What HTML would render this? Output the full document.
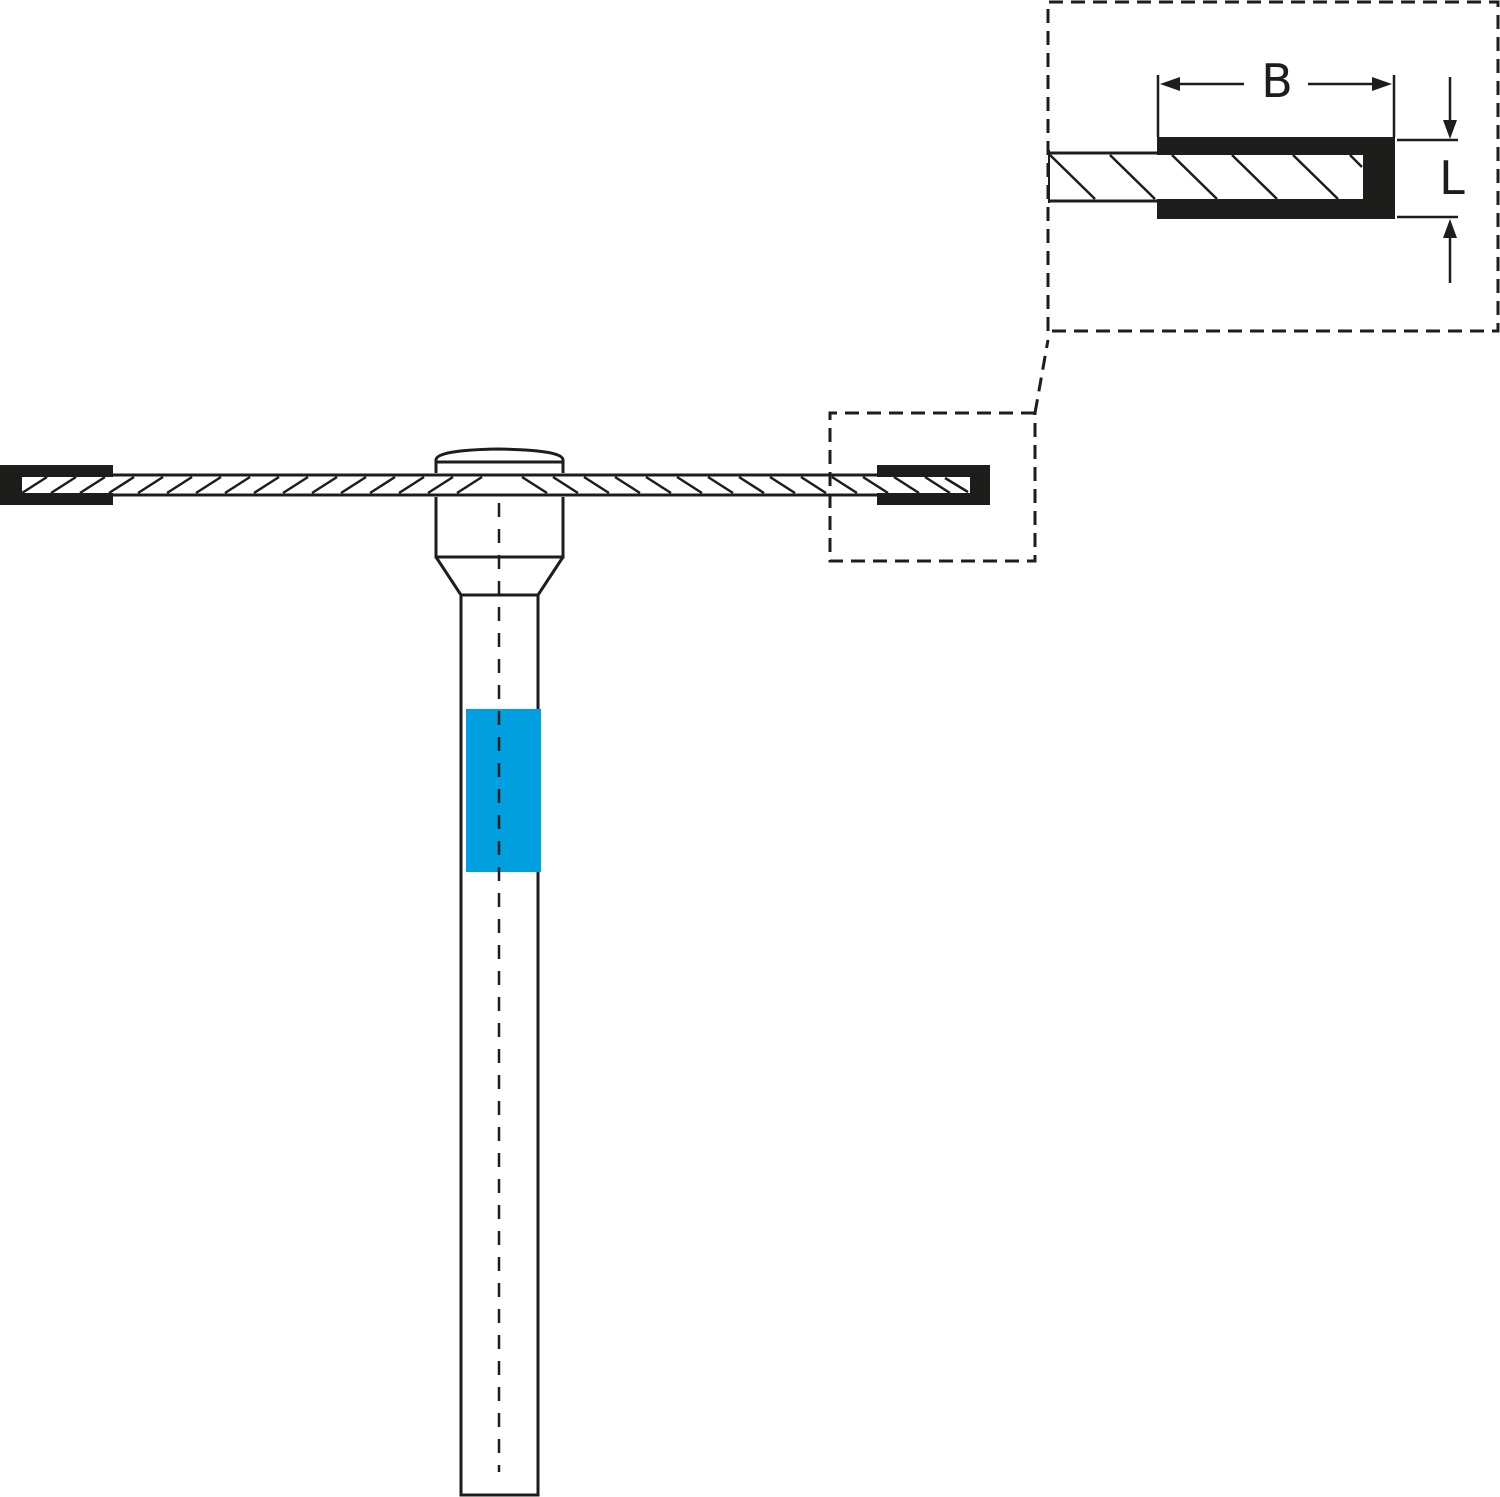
<!DOCTYPE html>
<html><head><style>html,body{margin:0;padding:0;background:#fff}svg{display:block}</style></head>
<body>
<svg width="1500" height="1497" viewBox="0 0 1500 1497" xmlns="http://www.w3.org/2000/svg">
<g fill="none" stroke="#1d1d1b" stroke-width="3">
<!-- disc outline -->
<line x1="0" y1="475" x2="990" y2="475"/>
<line x1="0" y1="495" x2="990" y2="495"/>
<!-- left hatch -->
<g stroke-width="2.5">
<path d="M22 493L47 477M51 493L76 477M80 493L105 477M109 493L134 477M138 493L163 477M167 493L192 477M196 493L221 477M225 493L250 477M254 493L279 477M283 493L308 477M312 493L337 477M341 493L366 477M370 493L395 477M399 493L424 477M428 493L453 477M457 493L482 477"/>
<path d="M522 477L547 493M553 477L578 493M584 477L609 493M615 477L640 493M646 477L671 493M677 477L702 493M708 477L733 493M739 477L764 493M770 477L795 493M801 477L826 493M832 477L857 493M863 477L888 493M894 477L919 493M925 477L950 493M945 478L968 492"/>
</g>
</g>
<!-- end caps -->
<path d="M0 465H113V477H22V493H113V505H0Z" fill="#1d1d1b"/>
<path d="M877 465H990V505H877V493H970V477H877Z" fill="#1d1d1b"/>
<g fill="none" stroke="#1d1d1b" stroke-width="3">
<!-- hub -->
<path d="M436 473V460Q436 450 499 449Q563 450 563 460V473" fill="#fff"/>
<line x1="436" y1="462" x2="563" y2="462"/>
<path d="M436 497V557H563V497"/>
<path d="M436 557L461 595V1495H538V595L563 557"/>
<line x1="461" y1="595" x2="538" y2="595"/>
</g>
<rect x="466" y="709" width="75" height="163" fill="#009fdf"/>
<line x1="499" y1="503" x2="499" y2="1472" stroke="#1d1d1b" stroke-width="2.5" stroke-dasharray="14 12"/>
<!-- detail boxes -->
<g fill="none" stroke="#1d1d1b" stroke-width="3" stroke-dasharray="14 8">
<path d="M1035 413H830V561H1035V413"/>
<path d="M1035 413L1048 340"/>
<path d="M1048 331V2H1498V331H1048"/>
</g>
<!-- detail -->
<g stroke="#1d1d1b" fill="none">
<line x1="1048" y1="153" x2="1365" y2="153" stroke-width="3"/>
<line x1="1048" y1="201" x2="1165" y2="201" stroke-width="3"/>
<line x1="1049" y1="150" x2="1049" y2="203" stroke-width="2"/>
<path d="M1050 155L1095 199M1110 155L1155 199M1172 155L1217 199M1232 155L1277 199M1293 155L1338 199M1350 155L1362 167" stroke-width="2.5"/>
</g>
<path d="M1157 137H1395V219H1157V199H1363V155H1157Z" fill="#1d1d1b"/>
<g stroke="#1d1d1b" stroke-width="2.5" fill="none">
<line x1="1158" y1="75" x2="1158" y2="137"/>
<line x1="1394" y1="75" x2="1394" y2="137"/>
<line x1="1175" y1="84" x2="1244" y2="84"/>
<line x1="1308" y1="84" x2="1375" y2="84"/>
<line x1="1397" y1="140" x2="1458" y2="140"/>
<line x1="1397" y1="217" x2="1458" y2="217"/>
<line x1="1450" y1="77" x2="1450" y2="124"/>
<line x1="1450" y1="235" x2="1450" y2="283"/>
</g>
<g fill="#1d1d1b">
<path d="M1160 84L1180 77V91Z"/>
<path d="M1392 84L1372 77V91Z"/>
<path d="M1450 139L1443 120H1457Z"/>
<path d="M1450 219L1443 238H1457Z"/>
</g>
<g font-family="'DejaVu Sans','Liberation Sans',sans-serif" fill="#1d1d1b">
<text x="1277" y="97" font-size="46" text-anchor="middle">B</text>
<text x="1452" y="194" font-size="46" text-anchor="middle">L</text>
</g>
</svg>
</body></html>
